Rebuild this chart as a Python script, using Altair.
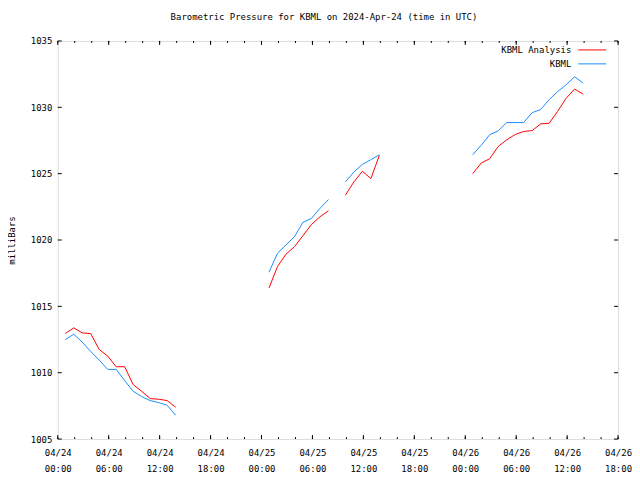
import altair as alt
import pandas as pd

series_names = ["KBML Analysis", "KBML"]
series_colors = ["#ff0000", "#1a8cff"]

obs_times = [
    # segment 1: 2024-04-24
    "2024-04-24T00:53:00Z", "2024-04-24T01:53:00Z", "2024-04-24T02:53:00Z", "2024-04-24T03:53:00Z",
    "2024-04-24T04:53:00Z", "2024-04-24T05:53:00Z", "2024-04-24T06:53:00Z", "2024-04-24T07:53:00Z",
    "2024-04-24T08:53:00Z", "2024-04-24T09:53:00Z", "2024-04-24T10:53:00Z", "2024-04-24T11:53:00Z",
    "2024-04-24T12:53:00Z", "2024-04-24T13:53:00Z",
    # segment 2: 2024-04-25 early
    "2024-04-25T00:53:00Z", "2024-04-25T01:53:00Z", "2024-04-25T02:53:00Z", "2024-04-25T03:53:00Z",
    "2024-04-25T04:53:00Z", "2024-04-25T05:53:00Z", "2024-04-25T06:53:00Z", "2024-04-25T07:53:00Z",
    # segment 3: 2024-04-25 late morning
    "2024-04-25T09:53:00Z", "2024-04-25T10:53:00Z", "2024-04-25T11:53:00Z", "2024-04-25T12:53:00Z",
    "2024-04-25T13:53:00Z",
    # segment 4: 2024-04-26
    "2024-04-26T00:53:00Z", "2024-04-26T01:53:00Z", "2024-04-26T02:53:00Z", "2024-04-26T03:53:00Z",
    "2024-04-26T04:53:00Z", "2024-04-26T05:53:00Z", "2024-04-26T06:53:00Z", "2024-04-26T07:53:00Z",
    "2024-04-26T08:53:00Z", "2024-04-26T09:53:00Z", "2024-04-26T10:53:00Z", "2024-04-26T11:53:00Z",
    "2024-04-26T12:53:00Z", "2024-04-26T13:53:00Z",
]
segment = [1] * 14 + [2] * 8 + [3] * 5 + [4] * 14

analysis_mb = [
    1012.95, 1013.38, 1013.0, 1012.95, 1011.75, 1011.25, 1010.45, 1010.45, 1009.1, 1008.6,
    1008.05, 1008.0, 1007.9, 1007.4,
    1016.38, 1018.0, 1018.93, 1019.5, 1020.33, 1021.17, 1021.75, 1022.2,
    1023.38, 1024.38, 1025.18, 1024.63, 1026.38,
    1025.0, 1025.8, 1026.13, 1027.05, 1027.55, 1027.95, 1028.18, 1028.25, 1028.75, 1028.8,
    1029.7, 1030.68, 1031.38, 1031.0,
]
kbml_mb = [
    1012.5, 1012.9, 1012.3, 1011.6, 1010.95, 1010.25, 1010.25, 1009.4, 1008.6, 1008.2,
    1007.9, 1007.75, 1007.55, 1006.8,
    1017.58, 1019.0, 1019.63, 1020.25, 1021.33, 1021.63, 1022.38, 1023.05,
    1024.38, 1025.13, 1025.7, 1026.05, 1026.43,
    1026.43, 1027.15, 1027.93, 1028.23, 1028.85, 1028.85, 1028.85, 1029.6, 1029.83, 1030.58,
    1031.18, 1031.7, 1032.3, 1031.83,
]

y_ticks = [1005, 1010, 1015, 1020, 1025, 1030, 1035]
x_major_ticks = [
    "2024-04-24T00:00:00Z", "2024-04-24T06:00:00Z", "2024-04-24T12:00:00Z", "2024-04-24T18:00:00Z",
    "2024-04-25T00:00:00Z", "2024-04-25T06:00:00Z", "2024-04-25T12:00:00Z", "2024-04-25T18:00:00Z",
    "2024-04-26T00:00:00Z", "2024-04-26T06:00:00Z", "2024-04-26T12:00:00Z", "2024-04-26T18:00:00Z",
]
x_minor_ticks = [t.strftime("%Y-%m-%dT%H:%M:%SZ")
                 for t in pd.date_range("2024-04-24T00:00", "2024-04-26T18:00", freq="2h")]

FONT = "DejaVu Sans Mono"
W, H = 563, 400

rows = []
for t, s, a, k in zip(obs_times, segment, analysis_mb, kbml_mb):
    rows.append({"time": t, "segment": s, "series": series_names[0], "mb": a})
    rows.append({"time": t, "segment": s, "series": series_names[1], "mb": k})
df = pd.DataFrame(rows)

def ms(s):
    return int(pd.Timestamp(s).value // 10**6)

x_domain = [ms(x_major_ticks[0]), ms(x_major_ticks[-1])]
x_scale = alt.Scale(type="utc", domain=x_domain, nice=False)
y_scale = alt.Scale(domain=[1005, 1035], nice=False, zero=False)

x_axis = alt.Axis(
    values=[ms(v) for v in x_major_ticks],
    labelExpr="[utcFormat(datum.value, '%m/%d'), utcFormat(datum.value, '%H:%M')]",
    labelFont=FONT, labelFontSize=9, labelColor="black", labelLineHeight=16,
    labelPadding=10, labelFlush=False, labelOverlap=False, labelBound=False,
    ticks=False, domain=False, grid=False, title=None,
)
y_axis = alt.Axis(
    values=y_ticks, format="d", labelFont=FONT, labelFontSize=9, labelColor="black",
    labelPadding=6, ticks=False, domain=False, grid=False,
    title="milliBars", titleFont=FONT, titleFontSize=9, titleFontWeight="normal",
    titleColor="black", titleX=-43, titleY=H / 2, titleAngle=270,
    titleAlign="center", titleBaseline="alphabetic",
)

lines = alt.Chart(df).mark_line(strokeWidth=1, interpolate="linear").encode(
    x=alt.X("time:T", scale=x_scale, axis=x_axis),
    y=alt.Y("mb:Q", scale=y_scale, axis=y_axis),
    color=alt.Color("series:N", scale=alt.Scale(domain=series_names, range=series_colors), legend=None),
    detail="segment:N",
)

major_df = pd.DataFrame({"t": x_major_ticks})
minor_df = pd.DataFrame({"t": x_minor_ticks})
ytick_df = pd.DataFrame({"v": y_ticks})

def xticks(d, y0, y1):
    return alt.Chart(d).mark_rule(color="black", strokeWidth=1).encode(
        x=alt.X("t:T", scale=x_scale, axis=x_axis), y=alt.value(y0), y2=alt.value(y1))

def yticks(x0, x1):
    return alt.Chart(ytick_df).mark_rule(color="black", strokeWidth=1).encode(
        y=alt.Y("v:Q", scale=y_scale, axis=y_axis), x=alt.value(x0), x2=alt.value(x1))

tick_layers = [
    xticks(minor_df, H, H - 2), xticks(major_df, H, H - 4),
    xticks(minor_df, 0, 2), xticks(major_df, 0, 4),
    yticks(0, 4), yticks(W, W - 4),
]

legend_layers = []
for i, name in enumerate(series_names):
    yy = 9 + 14 * i
    legend_layers.append(
        alt.Chart(pd.DataFrame({"name": [name]})).mark_text(
            font=FONT, fontSize=9, align="right", baseline="middle", color="black"
        ).encode(text="name:N", x=alt.value(516), y=alt.value(yy))
    )
    legend_layers.append(
        alt.Chart(pd.DataFrame({"name": [name]})).mark_rule(
            color=series_colors[i], strokeWidth=1
        ).encode(x=alt.value(523), x2=alt.value(551), y=alt.value(yy))
    )

chart = alt.layer(lines, *tick_layers, *legend_layers).properties(
    width=W, height=H,
    title=alt.TitleParams(
        "Barometric Pressure for KBML on 2024-Apr-24 (time in UTC)",
        font=FONT, fontSize=9, fontWeight="normal", color="black",
        anchor="middle", dx=-14, offset=15,
    ),
    autosize=alt.AutoSizeParams(type="none"),
    padding={"left": 50, "top": 32, "right": 14, "bottom": 38},
).configure_view(stroke="black", strokeWidth=1).configure(background="white")

chart.save("out.html", embed_options={"renderer": "svg", "actions": False})
